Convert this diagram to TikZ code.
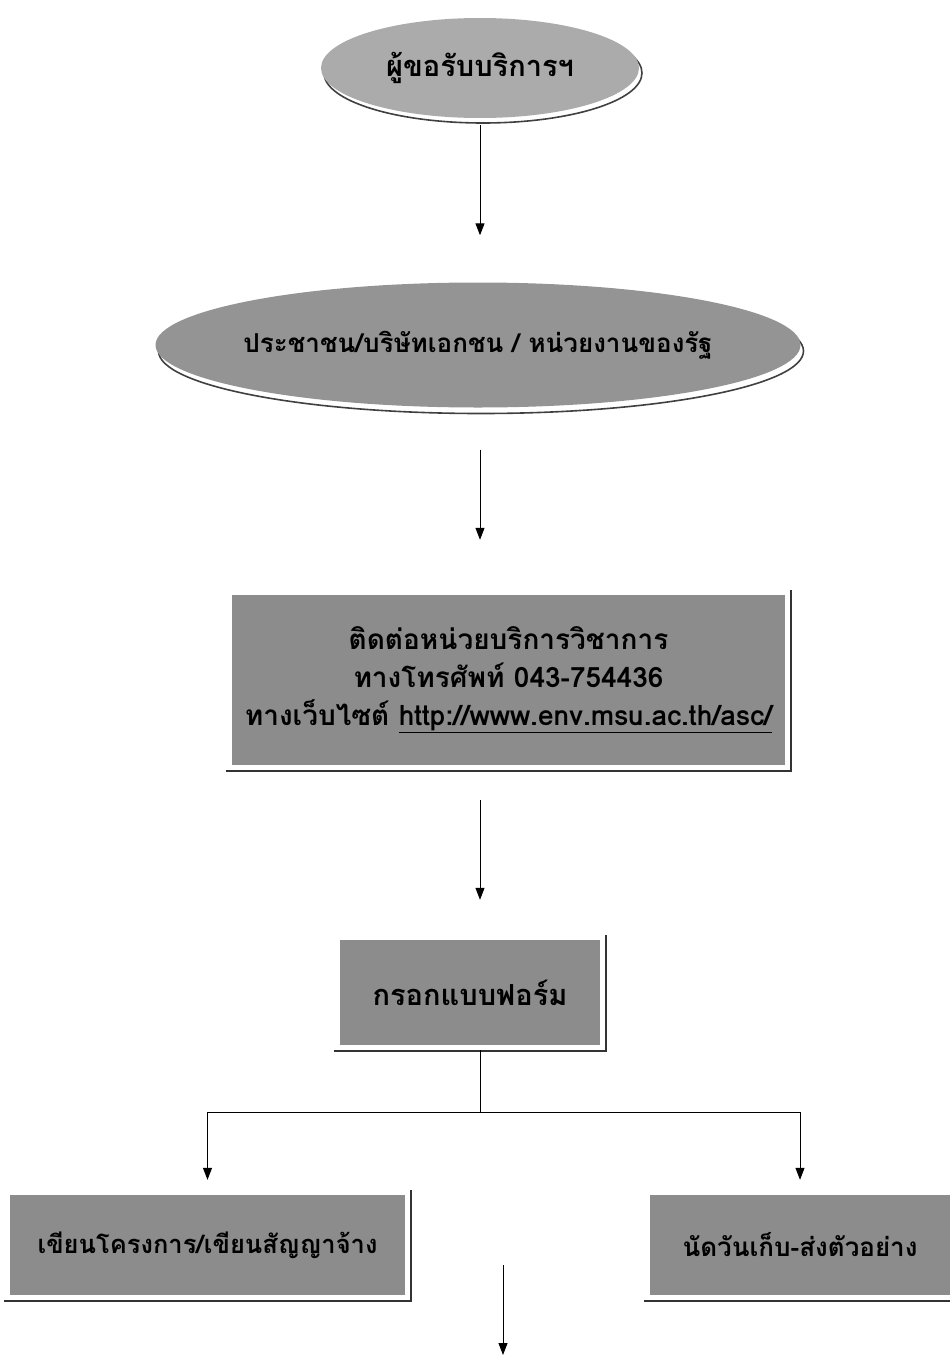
\documentclass[tikz,border=0pt]{standalone}
\usepackage{fontspec}
\newfontfamily\thaifont[Script=Thai]{Loma}
\usetikzlibrary{arrows.meta,shapes.geometric}
\begin{document}
\begin{tikzpicture}[x=1pt,y=-1pt,
  txt/.style={font=\thaifont\bfseries\fontsize{#1}{38}\selectfont, text=black, align=center, inner sep=0},
  txt/.default=27,
  ell/.style={ellipse, inner sep=0},
  ellshade/.style={ellipse, inner sep=0, draw=black!75, line width=1.6pt},
  box/.style={rectangle, fill=black!45, inner sep=0},
  shadowline/.style={draw=black!80, line width=1.8pt},
  arr/.style={draw=black, line width=1pt, -{Triangle[length=12pt,width=9pt]}},
  ln/.style={draw=black, line width=1pt}]
\useasboundingbox (0,0) rectangle (950,1365);
\coordinate (spine) at (480,0);
% ellipse 1
\node[ellshade, minimum width=318pt, minimum height=100pt] (e1s) at (483,73) {};
\node[ell, fill=black!33, minimum width=318pt, minimum height=100pt] (e1) at (480,68) {};
\node[txt=29] (e1t) at (e1) {ผู้ขอรับบริการฯ};
% ellipse 2
\node[ellshade, minimum width=645pt, minimum height=125pt] (e2s) at (481,351) {};
\node[ell, fill=black!42, minimum width=645pt, minimum height=125pt] (e2) at (478,345) {};
\node[txt=26] (e2t) at (e2) {ประชาชน/บริษัทเอกชน / หน่วยงานของรัฐ};
% boxes
\node[box, minimum width=553pt, minimum height=170pt] (r3) at (508.5,680) {};
\node[txt=28] (r3t) at (r3) {ติดต่อหน่วยบริการวิชาการ\\ทางโทรศัพท์ 043-754436\\ทางเว็บไซต์ \underline{http://www.env.msu.ac.th/asc/}};
\node[box, minimum width=260pt, minimum height=105pt] (r4) at (470,992.5) {};
\node[txt=29] (r4t) at (r4) {กรอกแบบฟอร์ม};
\node[box, minimum width=395pt, minimum height=100pt] (r5) at (207.5,1245) {};
\node[txt=25.5] (r5t) at (r5) {เขียนโครงการ/เขียนสัญญาจ้าง};
\node[box, minimum width=300pt, minimum height=100pt] (r6) at (800,1245) {};
\node[txt=26] (r6t) at (r6) {นัดวันเก็บ-ส่งตัวอย่าง};
\foreach \n in {r3,r4,r5,r6}
  \draw[shadowline] ([xshift=-6pt,yshift=-6pt]\n.south west) -- ([xshift=6pt,yshift=-6pt]\n.south east) -- ([xshift=6pt,yshift=5pt]\n.north east);
% connectors
\draw[arr, shorten <=7pt, shorten >=47pt] (e1.south -| spine) -- (e2.north -| spine);
\draw[arr, shorten <=42pt, shorten >=55pt] (e2.south -| spine) -- (r3.north -| spine);
\draw[arr, shorten <=35pt, shorten >=40pt] (r3.south -| spine) -- (r4.north -| spine);
\coordinate (split) at (480,1112);
\draw[ln, shorten <=5pt] (r4.south -| spine) -- (split);
\draw[arr, shorten >=15pt] (split) -| (r5.north);
\draw[arr, shorten >=15pt] (split) -| (r6.north);
\coordinate (b1) at (503,1265);
\coordinate (b2) at (503,1355);
\draw[arr] (b1) -- (b2);
\end{tikzpicture}
\end{document}
